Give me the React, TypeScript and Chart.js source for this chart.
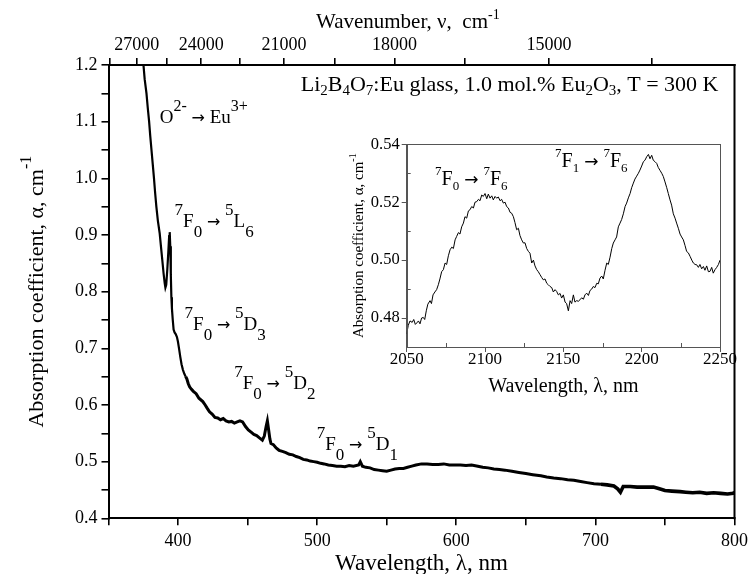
import React, { useEffect, useRef } from 'react';
import { Chart, registerables } from 'chart.js';

Chart.register(...registerables);

const FONT = 'Liberation Serif';
const ARROW_FONT = 'DejaVu Sans';

// ---- main spectrum (wavelength nm, absorption cm^-1) ----
const mainWavelength = [
  374.8, 376.0, 377.3, 378.2, 379.2, 380.0, 380.9, 381.8, 382.7, 383.5, 384.4, 385.5, 386.8, 387.7, 388.7,
  389.6, 390.4, 390.9, 391.5, 392.3, 393.0, 393.6, 394.0, 394.4, 394.8, 395.2, 395.6, 396.2, 396.8, 397.5,
  398.3, 399.2, 399.9, 400.8, 401.6, 402.5, 403.5, 404.5, 405.5, 406.3, 407.3, 408.3, 409.5, 411.0, 413.0,
  415.0, 417.8, 419.5, 421.0, 422.6, 424.5, 426.5, 428.5, 430.5, 432.5, 434.5, 436.5, 438.5, 440.5, 442.5,
  444.5, 446.4, 448.5, 450.5, 452.5, 454.5, 456.5, 458.5, 460.6, 462.0, 463.3, 464.2, 465.0, 466.0, 466.8,
  468.5, 470.5, 472.6, 475.0, 477.5, 480.0, 482.5, 485.0, 487.5, 490.0, 492.5, 495.0, 497.5, 500.0, 502.5,
  505.0, 508.0, 511.0, 514.0, 517.0, 520.0, 523.0, 526.0, 529.8, 531.0, 532.5, 535.0, 538.0, 541.0, 544.0,
  547.0, 550.0, 553.0, 556.0, 559.0, 562.0, 565.0, 568.0, 571.0, 575.0, 579.0, 583.0, 587.0, 591.0, 595.0,
  599.0, 603.0, 607.0, 611.0, 615.5, 619.0, 623.0, 627.0, 631.0, 635.0, 640.0, 645.0, 650.0, 655.0, 660.8,
  665.0, 670.0, 675.0, 680.0, 684.5, 689.4, 694.0, 699.0, 704.0, 708.5, 713.3, 716.0, 718.0, 720.0, 725.0,
  730.0, 735.0, 741.8, 746.0, 750.0, 755.0, 760.9, 765.0, 770.0, 775.0, 780.0, 785.0, 790.0, 795.0, 799.0,
  800.0,
];
const mainAbsorption = [
  1.21, 1.175, 1.15, 1.125, 1.1, 1.075, 1.05, 1.025, 1.0, 0.975, 0.95, 0.925, 0.903, 0.88, 0.855,
  0.832, 0.815, 0.807, 0.812, 0.84, 0.87, 0.898, 0.905, 0.88, 0.83, 0.79, 0.77, 0.75, 0.733, 0.728,
  0.725, 0.72, 0.712, 0.698, 0.685, 0.672, 0.662, 0.655, 0.65, 0.646, 0.638, 0.632, 0.628, 0.624, 0.62,
  0.612, 0.606, 0.6, 0.594, 0.588, 0.584, 0.578, 0.577, 0.574, 0.576, 0.572, 0.57, 0.571, 0.568, 0.57,
  0.572, 0.57, 0.562, 0.556, 0.552, 0.548, 0.546, 0.542, 0.538, 0.545, 0.562, 0.572, 0.558, 0.54, 0.532,
  0.53, 0.524, 0.52, 0.518, 0.516, 0.513, 0.512, 0.509, 0.507, 0.504, 0.503, 0.501, 0.5, 0.499, 0.497,
  0.496, 0.494, 0.493, 0.492, 0.492, 0.491, 0.493, 0.492, 0.494, 0.5, 0.492, 0.49, 0.489, 0.486, 0.485,
  0.484, 0.483, 0.485, 0.487, 0.488, 0.488, 0.49, 0.492, 0.494, 0.496, 0.496, 0.495, 0.495, 0.496, 0.494,
  0.494, 0.494, 0.493, 0.494, 0.492, 0.49, 0.489, 0.487, 0.486, 0.485, 0.483, 0.481, 0.479, 0.477, 0.475,
  0.473, 0.471, 0.47, 0.468, 0.467, 0.465, 0.463, 0.461, 0.46, 0.459, 0.457, 0.452, 0.446, 0.456, 0.456,
  0.455, 0.455, 0.455, 0.452, 0.449, 0.448, 0.447, 0.446, 0.445, 0.446, 0.444, 0.445, 0.444, 0.443, 0.444,
  0.446,
];

// ---- inset spectrum ----
const insetWavelength = [
  2050.0, 2051.0, 2052.1, 2053.5, 2054.5, 2055.5, 2056.4, 2057.5, 2058.5, 2059.5, 2060.6, 2061.5, 2062.5, 2063.5,
  2064.9, 2065.8, 2066.8, 2068.0, 2069.1, 2070.2, 2071.2, 2072.3, 2073.4, 2074.5, 2075.5, 2076.6, 2077.7, 2078.8,
  2079.8, 2080.9, 2081.9, 2083.0, 2084.0, 2085.1, 2086.2, 2087.2, 2088.3, 2089.4, 2090.4, 2091.5, 2092.6, 2093.6,
  2094.7, 2095.8, 2096.8, 2097.9, 2098.9, 2100.0, 2101.1, 2102.1, 2103.2, 2104.3, 2105.3, 2106.4, 2107.4, 2108.5,
  2109.6, 2110.6, 2111.7, 2112.8, 2113.8, 2114.9, 2116.0, 2117.0, 2118.1, 2119.1, 2120.2, 2121.3, 2122.3, 2123.4,
  2124.5, 2125.5, 2126.6, 2127.7, 2128.7, 2129.8, 2130.9, 2131.9, 2133.0, 2134.0, 2135.1, 2136.2, 2137.2, 2138.3,
  2139.4, 2140.4, 2141.5, 2142.6, 2143.6, 2144.7, 2145.7, 2146.8, 2147.9, 2148.9, 2150.0, 2151.1, 2152.1, 2153.2,
  2154.3, 2155.3, 2156.4, 2157.4, 2158.5, 2159.6, 2160.6, 2161.7, 2162.8, 2163.8, 2164.9, 2166.0, 2167.0, 2168.1,
  2169.1, 2170.2, 2171.3, 2172.3, 2173.4, 2174.5, 2175.5, 2176.6, 2177.7, 2178.7, 2179.8, 2180.9, 2181.9, 2183.0,
  2184.0, 2185.1, 2186.2, 2187.2, 2188.3, 2189.4, 2190.4, 2191.5, 2192.6, 2193.6, 2194.7, 2195.7, 2196.8, 2197.9,
  2198.9, 2200.0, 2201.1, 2202.1, 2203.2, 2204.3, 2205.3, 2206.4, 2207.4, 2208.5, 2209.6, 2210.6, 2211.7, 2212.8,
  2213.8, 2214.9, 2216.0, 2217.0, 2218.1, 2219.1, 2220.2, 2221.3, 2222.3, 2223.4, 2224.5, 2225.5, 2226.6, 2227.7,
  2228.7, 2229.8, 2230.9, 2232.0, 2233.0, 2234.1, 2235.1, 2236.2, 2237.2, 2238.3, 2239.4, 2240.4, 2241.5, 2242.6,
  2243.6, 2244.7, 2245.7, 2246.8, 2247.9, 2249.0, 2250.0,
];
const insetAbsorption = [
  0.4745, 0.4775, 0.479, 0.4785, 0.4795, 0.4778, 0.4783, 0.479, 0.478, 0.48, 0.4802, 0.4795, 0.4825, 0.4848,
  0.486, 0.485, 0.488, 0.489, 0.4898, 0.4915, 0.4935, 0.496, 0.4967, 0.499, 0.4985, 0.5015, 0.5036, 0.5045,
  0.504, 0.507, 0.5082, 0.5095, 0.509, 0.5115, 0.5128, 0.515, 0.5145, 0.517, 0.5174, 0.5185, 0.518, 0.52,
  0.5202, 0.521, 0.5205, 0.5225, 0.522, 0.523, 0.5212, 0.5228, 0.5214, 0.5222, 0.5208, 0.522, 0.5214, 0.5218,
  0.5205, 0.521, 0.5197, 0.52, 0.5185, 0.518, 0.5165, 0.5162, 0.515, 0.513, 0.5105, 0.511, 0.5085, 0.507,
  0.5059, 0.506, 0.504, 0.503, 0.5024, 0.499, 0.5, 0.498, 0.4967, 0.496, 0.495, 0.494, 0.4932, 0.4935,
  0.492, 0.4915, 0.4909, 0.4905, 0.489, 0.4898, 0.4892, 0.488, 0.4885, 0.4869, 0.488, 0.4855, 0.485, 0.4825,
  0.486, 0.485, 0.488, 0.4855, 0.486, 0.4858, 0.4863, 0.487, 0.4865, 0.488, 0.4886, 0.4878, 0.4895, 0.49,
  0.4909, 0.4905, 0.492, 0.4918, 0.4938, 0.4945, 0.4935, 0.4965, 0.499, 0.4985, 0.501, 0.504, 0.5059, 0.507,
  0.508, 0.5115, 0.5128, 0.514, 0.516, 0.5185, 0.5197, 0.5215, 0.523, 0.525, 0.5266, 0.528, 0.529, 0.53,
  0.5311, 0.5325, 0.534, 0.5345, 0.5357, 0.5365, 0.535, 0.5362, 0.5345, 0.534, 0.5334, 0.532, 0.531, 0.53,
  0.5289, 0.527, 0.525, 0.523, 0.5208, 0.519, 0.516, 0.5145, 0.5128, 0.511, 0.509, 0.508, 0.507, 0.505,
  0.503, 0.5025, 0.5013, 0.5, 0.499, 0.4985, 0.4984, 0.4975, 0.4985, 0.497, 0.4978, 0.4965, 0.498, 0.496,
  0.4961, 0.4975, 0.4955, 0.4967, 0.4975, 0.4985, 0.5,
];

// ---- ticks ----
const mainXTicks = [350, 400, 450, 500, 550, 600, 650, 700, 750, 800];
const mainXLabels = [400, 500, 600, 700, 800];
const mainYTicks = [0.4, 0.45, 0.5, 0.55, 0.6, 0.65, 0.7, 0.75, 0.8, 0.85, 0.9, 0.95, 1.0, 1.05, 1.1, 1.15, 1.2];
const mainYLabels = [0.4, 0.5, 0.6, 0.7, 0.8, 0.9, 1.0, 1.1, 1.2];
const wavenumberTicks = [28500, 27000, 25500, 24000, 22500, 21000, 19500, 18000, 16500, 15000, 13500];
const wavenumberLabels = [27000, 24000, 21000, 18000, 15000];
const insetXTicks = [2050, 2100, 2150, 2200, 2250];
const insetXMinor = [2075, 2125, 2175, 2225];
const insetYTicks = [0.48, 0.5, 0.52, 0.54];
const insetYMinor = [0.49, 0.51, 0.53];

type Seg = { t: string; k?: 'sup' | 'sub' | 'arr' };
type RichOpts = { base: number; small: number; rise: number; drop: number; align?: 'left' | 'center' | 'right' };

function segFont(s: Seg, o: RichOpts) {
  if (s.k === 'arr') return `${Math.round(o.base * 0.85)}px "${ARROW_FONT}"`;
  return `${s.k ? o.small : o.base}px "${FONT}"`;
}

function drawRich(ctx: CanvasRenderingContext2D, segs: Seg[], x: number, y: number, o: RichOpts) {
  const widths = segs.map((s) => {
    ctx.font = segFont(s, o);
    return ctx.measureText(s.t).width;
  });
  const total = widths.reduce((a, b) => a + b, 0);
  let cx = o.align === 'center' ? x - total / 2 : o.align === 'right' ? x - total : x;
  ctx.textAlign = 'left';
  ctx.textBaseline = 'alphabetic';
  segs.forEach((s, i) => {
    ctx.font = segFont(s, o);
    const dy = s.k === 'sup' ? -o.rise : s.k === 'sub' ? o.drop : 0;
    ctx.fillText(s.t, cx, y + dy);
    cx += widths[i];
  });
}

const arrow: Seg[] = [{ t: ' ' }, { t: '\u2192', k: 'arr' }, { t: ' ' }];
const trans = (a: string, b: string, c: string, d: string, e: string, f: string): Seg[] => [
  { t: a, k: 'sup' }, { t: b }, { t: c, k: 'sub' }, ...arrow, { t: d, k: 'sup' }, { t: e }, { t: f, k: 'sub' },
];

// annotation anchors in data coordinates (wavelength, absorption)
const mainNotes: { segs: Seg[]; at: [number, number]; opts: RichOpts }[] = [
  { segs: [{ t: 'O' }, { t: '2-', k: 'sup' }, ...arrow, { t: 'Eu' }, { t: '3+', k: 'sup' }], at: [386.8, 1.097], opts: { base: 19, small: 16, rise: 12, drop: 0 } },
  { segs: trans('7', 'F', '0', '5', 'L', '6'), at: [397.5, 0.914], opts: { base: 19, small: 17, rise: 12, drop: 10 } },
  { segs: trans('7', 'F', '0', '5', 'D', '3'), at: [404.7, 0.732], opts: { base: 19, small: 17, rise: 12, drop: 10 } },
  { segs: trans('7', 'F', '0', '5', 'D', '2'), at: [440.4, 0.628], opts: { base: 19, small: 17, rise: 12, drop: 10 } },
  { segs: trans('7', 'F', '0', '5', 'D', '1'), at: [499.7, 0.52], opts: { base: 19, small: 17, rise: 12, drop: 10 } },
];
const sampleTitle: Seg[] = [
  { t: 'Li' }, { t: '2', k: 'sub' }, { t: 'B' }, { t: '4', k: 'sub' }, { t: 'O' }, { t: '7', k: 'sub' },
  { t: ':Eu glass, 1.0 mol.% Eu' }, { t: '2', k: 'sub' }, { t: 'O' }, { t: '3', k: 'sub' }, { t: ', T = 300 K' },
];
const insetNotes: { segs: Seg[]; at: [number, number] }[] = [
  { segs: trans('7', 'F', '0', '7', 'F', '6'), at: [2068.1, 0.526] },
  { segs: trans('7', 'F', '1', '7', 'F', '6'), at: [2144.7, 0.5323] },
];

export default function App() {
  const mainRef = useRef<HTMLCanvasElement>(null);
  const insetRef = useRef<HTMLCanvasElement>(null);

  useEffect(() => {
    const black = '#000';
    const mainDecor = {
      id: 'mainDecor',
      afterDraw(chart: any) {
        const { ctx, chartArea: a, scales } = chart;
        ctx.save();
        ctx.fillStyle = black;
        ctx.strokeStyle = black;
        ctx.lineWidth = 2;
        ctx.beginPath();
        ctx.moveTo(a.right, a.top - 1);
        ctx.lineTo(a.right, a.bottom + 1);
        ctx.stroke();
        drawRich(ctx, [{ t: 'Wavelength, \u03bb, nm' }], (a.left + a.right) / 2, 570, { base: 23, small: 16, rise: 10, drop: 0, align: 'center' });
        drawRich(ctx, [{ t: 'Wavenumber, \u03bd,  cm' }, { t: '-1', k: 'sup' }], 316, 28, { base: 21, small: 14, rise: 9, drop: 0, align: 'left' });
        ctx.save();
        ctx.translate(43, (a.top + a.bottom) / 2);
        ctx.rotate(-Math.PI / 2);
        drawRich(ctx, [{ t: 'Absorption coefficient, \u03b1, cm' }, { t: '-1', k: 'sup' }], 0, 0, { base: 22, small: 16, rise: 12, drop: 0, align: 'center' });
        ctx.restore();
        drawRich(ctx, sampleTitle, scales.x.getPixelForValue(788.5), scales.y.getPixelForValue(1.154), { base: 22, small: 15, rise: 0, drop: 4, align: 'right' });
        mainNotes.forEach((n) => {
          drawRich(ctx, n.segs, scales.x.getPixelForValue(n.at[0]), scales.y.getPixelForValue(n.at[1]), n.opts);
        });
        ctx.restore();
      },
    };

    const main = new Chart(mainRef.current!, {
      type: 'line',
      data: {
        datasets: [
          {
            data: mainWavelength.map((x, i) => ({ x, y: mainAbsorption[i] })),
            borderColor: black,
            borderWidth: 2.2,
            pointRadius: 0,
            tension: 0,
            segment: {
              borderWidth: (c: any) => (c.p0.parsed.x < 405 ? 2.2 : c.p0.parsed.x < 700 ? 3 : 3.6),
            },
          } as any,
        ],
      },
      options: {
        animation: false,
        responsive: false,
        events: [],
        layout: { padding: { left: 0, right: 15.5, top: 0, bottom: 0 } },
        plugins: { legend: { display: false }, tooltip: { enabled: false } },
        scales: {
          x: {
            type: 'linear',
            position: 'bottom',
            min: 350,
            max: 800,
            afterBuildTicks: (s: any) => { s.ticks = mainXTicks.map((v) => ({ value: v })); },
            afterFit: (s: any) => { s.height = 55.7; },
            ticks: {
              autoSkip: false,
              maxRotation: 0,
              padding: 5,
              color: black,
              font: { family: FONT, size: 18 },
              callback: (v: any) => (mainXLabels.includes(v) ? String(v) : ''),
            },
            grid: { drawOnChartArea: false, drawTicks: true, tickLength: 7, color: black, lineWidth: 1.6 },
            border: { display: true, color: black, width: 2 },
          },
          x2: {
            type: 'linear',
            position: 'top',
            min: 350,
            max: 800,
            afterBuildTicks: (s: any) => { s.ticks = wavenumberTicks.map((w) => ({ value: 1e7 / w })); },
            afterFit: (s: any) => { s.height = 65; },
            ticks: {
              autoSkip: false,
              maxRotation: 0,
              padding: 2,
              color: black,
              font: { family: FONT, size: 18 },
              callback: (v: any) => {
                const w = Math.round(1e7 / v);
                return wavenumberLabels.includes(w) ? String(w) : '';
              },
            },
            grid: { drawOnChartArea: false, drawTicks: true, tickLength: 7, color: black, lineWidth: 1.6 },
            border: { display: true, color: black, width: 2 },
          },
          y: {
            type: 'linear',
            position: 'left',
            min: 0.4,
            max: 1.2,
            afterBuildTicks: (s: any) => { s.ticks = mainYTicks.map((v) => ({ value: v })); },
            afterFit: (s: any) => { s.width = 108.5; },
            ticks: {
              autoSkip: false,
              padding: 4,
              color: black,
              font: { family: FONT, size: 18 },
              callback: (v: any) => (mainYLabels.some((l) => Math.abs(l - v) < 1e-6) ? Number(v).toFixed(1) : ''),
            },
            grid: { drawOnChartArea: false, drawTicks: true, tickLength: 7, color: black, lineWidth: 1.6 },
            border: { display: true, color: black, width: 2 },
          },
        },
      } as any,
      plugins: [mainDecor],
    });

    const frame = '#555';
    const insetDecor = {
      id: 'insetDecor',
      afterDraw(chart: any) {
        const { ctx, chartArea: a, scales } = chart;
        ctx.save();
        ctx.strokeStyle = frame;
        ctx.lineWidth = 1;
        ctx.strokeRect(Math.round(a.left) + 0.5, Math.round(a.top) + 0.5, Math.round(a.right - a.left), Math.round(a.bottom - a.top));
        ctx.beginPath();
        insetXMinor.forEach((v) => {
          const px = Math.round(scales.x.getPixelForValue(v)) + 0.5;
          ctx.moveTo(px, a.bottom);
          ctx.lineTo(px, a.bottom - 4);
        });
        insetYMinor.forEach((v) => {
          const py = Math.round(scales.y.getPixelForValue(v)) + 0.5;
          ctx.moveTo(a.left, py);
          ctx.lineTo(a.left + 4, py);
        });
        ctx.stroke();
        ctx.fillStyle = black;
        drawRich(ctx, [{ t: 'Wavelength, \u03bb, nm' }], (a.left + a.right) / 2, 272, { base: 20, small: 14, rise: 8, drop: 0, align: 'center' });
        ctx.save();
        ctx.translate(33, (a.top + a.bottom) / 2);
        ctx.rotate(-Math.PI / 2);
        drawRich(ctx, [{ t: 'Absorption coefficient, \u03b1, cm' }, { t: '-1', k: 'sup' }], 0, 0, { base: 15, small: 10, rise: 7, drop: 0, align: 'center' });
        ctx.restore();
        insetNotes.forEach((n) => {
          drawRich(ctx, n.segs, scales.x.getPixelForValue(n.at[0]), scales.y.getPixelForValue(n.at[1]), { base: 20, small: 13, rise: 10, drop: 5 });
        });
        ctx.restore();
      },
    };

    const inset = new Chart(insetRef.current!, {
      type: 'line',
      data: {
        datasets: [
          {
            data: insetWavelength.map((x, i) => ({ x, y: insetAbsorption[i] })),
            borderColor: black,
            borderWidth: 1,
            pointRadius: 0,
            tension: 0,
          },
        ],
      },
      options: {
        animation: false,
        responsive: false,
        events: [],
        layout: { padding: { left: 0, right: 20, top: 24.3, bottom: 0 } },
        plugins: { legend: { display: false }, tooltip: { enabled: false } },
        scales: {
          x: {
            type: 'linear',
            min: 2050,
            max: 2250,
            afterBuildTicks: (s: any) => { s.ticks = insetXTicks.map((v) => ({ value: v })); },
            afterFit: (s: any) => { s.height = 63; },
            ticks: {
              autoSkip: false,
              maxRotation: 0,
              padding: -3,
              color: black,
              font: { family: FONT, size: 17 },
              callback: (v: any) => String(v),
            },
            grid: { drawOnChartArea: false, drawTicks: true, tickLength: 5, color: frame, lineWidth: 1 },
            border: { display: true, color: frame, width: 1 },
          },
          y: {
            type: 'linear',
            min: 0.47,
            max: 0.54,
            afterBuildTicks: (s: any) => { s.ticks = insetYTicks.map((v) => ({ value: v })); },
            afterFit: (s: any) => { s.width = 76.7; },
            ticks: {
              autoSkip: false,
              padding: 2,
              color: black,
              font: { family: FONT, size: 16.5 },
              callback: (v: any) => Number(v).toFixed(2),
            },
            grid: { drawOnChartArea: false, drawTicks: true, tickLength: 5, color: frame, lineWidth: 1 },
            border: { display: true, color: frame, width: 1 },
          },
        },
      } as any,
      plugins: [insetDecor],
    });

    return () => {
      main.destroy();
      inset.destroy();
    };
  }, []);

  return (
    <div style={{ position: 'absolute', left: 0, top: 0, width: 753, height: 574, background: '#fff', overflow: 'hidden' }}>
      <canvas ref={mainRef} width={753} height={574} style={{ position: 'absolute', left: 0, top: 0, width: 753, height: 574 }} />
      <canvas ref={insetRef} width={410} height={290} style={{ position: 'absolute', left: 330, top: 120, width: 410, height: 290 }} />
    </div>
  );
}
